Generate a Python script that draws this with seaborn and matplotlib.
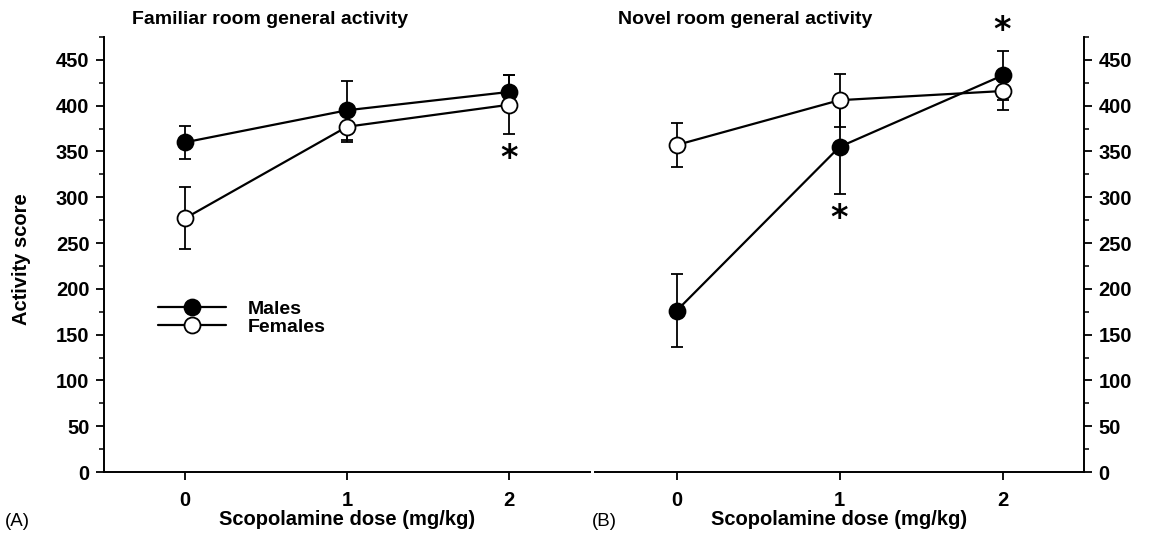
import numpy as np
import pandas as pd
import matplotlib
matplotlib.use("Agg")
import matplotlib.pyplot as plt
from matplotlib.ticker import MultipleLocator
import seaborn as sns

# ---------------- data ----------------
doses = [0, 1, 2]
dose_labels = ["0", "1", "2"]
y_ticks = [0, 50, 100, 150, 200, 250, 300, 350, 400, 450]

fam_males_mean = [360, 395, 415]
fam_males_se = [18, 32, 19]
fam_females_mean = [277, 377, 401]
fam_females_se = [34, 17, 32]

nov_males_mean = [176, 355, 433]
nov_males_se = [40, 51, 27]
nov_females_mean = [357, 406, 416]
nov_females_se = [24, 29, 21]

# significance markers: (series, dose index, placement)
fam_sig = [("Females", 2, "below")]
nov_sig = [("Males", 1, "below"), ("Males", 2, "above")]

titles = ["Familiar room general activity", "Novel room general activity"]
panel_tags = ["(A)", "(B)"]
xlabel = "Scopolamine dose (mg/kg)"
ylabel = "Activity score"

# ---------------- style ----------------
sns.set_theme(style="ticks")
plt.rcParams["font.family"] = ["Liberation Sans", "DejaVu Sans"]
plt.rcParams["text.color"] = "black"
plt.rcParams["axes.labelcolor"] = "black"
plt.rcParams["xtick.color"] = "black"
plt.rcParams["ytick.color"] = "black"
plt.rcParams["axes.edgecolor"] = "black"
plt.rcParams["axes.linewidth"] = 1.4
plt.rcParams["xtick.major.width"] = 1.3
plt.rcParams["ytick.major.width"] = 1.3
plt.rcParams["ytick.minor.width"] = 1.1

W, H = 1150, 536
fig = plt.figure(figsize=(W / 100, H / 100), dpi=100)
fig.patch.set_facecolor("white")

def fx(px):
    return px / W

def fy(py):
    return 1 - py / H

ax_left = fig.add_axes([fx(104), fy(472), fx(590 - 104), (472 - 37) / H])
ax_right = fig.add_axes([fx(595), fy(472), fx(1084 - 595), (472 - 37) / H])

panels = [
    (ax_left, fam_males_mean, fam_males_se, fam_females_mean, fam_females_se, fam_sig),
    (ax_right, nov_males_mean, nov_males_se, nov_females_mean, nov_females_se, nov_sig),
]

TICK_FS = 14.5
tick_font = dict(fontsize=TICK_FS, fontweight="bold")
handles = None
for i, (ax, mm, ms, fm, fs, sig) in enumerate(panels):
    ax.set_facecolor("white")
    df_m = pd.DataFrame({"dose": doses, "score": mm})
    df_f = pd.DataFrame({"dose": doses, "score": fm})
    # error bars (below markers)
    ax.errorbar(doses, mm, yerr=ms, fmt="none", ecolor="black", elinewidth=1.3,
                capsize=4, capthick=1.3, zorder=2)
    ax.errorbar(doses, fm, yerr=fs, fmt="none", ecolor="black", elinewidth=1.3,
                capsize=4, capthick=1.3, zorder=2)
    sns.lineplot(data=df_m, x="dose", y="score", ax=ax, color="black", lw=1.6,
                 marker="o", markersize=11.5, markerfacecolor="black",
                 markeredgecolor="black", markeredgewidth=1.3, zorder=3,
                 label="Males", legend=False)
    hm = ax.lines[-1]
    sns.lineplot(data=df_f, x="dose", y="score", ax=ax, color="black", lw=1.6,
                 marker="o", markersize=11.5, markerfacecolor="white",
                 markeredgecolor="black", markeredgewidth=1.3, zorder=4,
                 label="Females", legend=False)
    hf = ax.lines[-1]
    if i == 0:
        handles = [hm, hf]

    series = {"Males": (mm, ms), "Females": (fm, fs)}
    for name, idx, where in sig:
        mean, se = series[name]
        if where == "below":
            yv = mean[idx] - se[idx] - 27
        else:
            yv = mean[idx] + se[idx] + 22
        ax.text(doses[idx], yv, "*", ha="center", va="center", fontsize=24,
                fontweight="bold", family="DejaVu Sans", clip_on=False)

    ax.set_xlim(-0.5, 2.5)
    ax.set_ylim(0, 475)
    ax.set_xticks(doses)
    ax.set_xticklabels(dose_labels, **tick_font)
    ax.set_yticks(y_ticks)
    ax.yaxis.set_minor_locator(MultipleLocator(25))
    ax.set_yticklabels([str(v) for v in y_ticks], **tick_font)
    ax.tick_params(axis="both", which="major", length=6, direction="out",
                   colors="black")
    ax.tick_params(axis="y", which="major", pad=4.5)
    ax.tick_params(axis="y", which="minor", length=3.5, direction="out")
    ax.tick_params(axis="x", which="major", pad=8)
    ax.set_xlabel(xlabel, fontsize=14.5, fontweight="bold", labelpad=0)
    ax.set_ylabel("")
    ax.spines["top"].set_visible(False)
    if i == 0:
        ax.spines["right"].set_visible(False)
    else:
        ax.spines["left"].set_visible(False)
        ax.yaxis.tick_right()
        ax.yaxis.set_label_position("right")

# legend
leg = ax_left.legend(handles=handles, labels=["Males", "Females"],
                     loc="center left", bbox_to_anchor=(fx(158), fy(318)),
                     bbox_transform=fig.transFigure, frameon=False,
                     handlelength=3.5, handletextpad=1.1, labelspacing=0.0,
                     borderpad=0, borderaxespad=0,
                     prop=dict(size=14, weight="bold"))

# titles, y label, panel tags
fig.text(fx(132), fy(19), titles[0], ha="left", va="center", fontsize=14,
         fontweight="bold")
fig.text(fx(618), fy(19), titles[1], ha="left", va="center", fontsize=14,
         fontweight="bold")
fig.text(fx(22), fy(259), ylabel, ha="center", va="center", rotation=90,
         fontsize=14.5, fontweight="bold")
fig.text(fx(5), fy(522), panel_tags[0], ha="left", va="center", fontsize=13.5)
fig.text(fx(592), fy(522), panel_tags[1], ha="left", va="center", fontsize=13.5)

fig.savefig("out.png", dpi=100, facecolor="white")
